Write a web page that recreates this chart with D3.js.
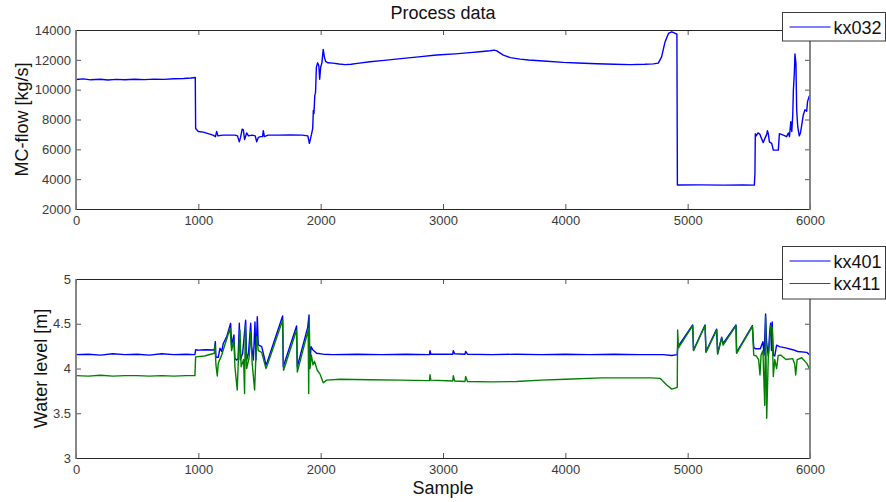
<!DOCTYPE html>
<html>
<head>
<meta charset="utf-8">
<script src="https://cdn.jsdelivr.net/npm/d3@7"></script>
<style>
	body { margin: 0; background: #fff; }
	svg { display: block; font-family: "Liberation Sans", Arial, sans-serif; }
	.tick text { fill: #3a3a3a; font-size: 13px; }
	.tick line { stroke: #555; }
	.domain { display: none; }
</style>
</head>
<body>
<svg id="chart" width="886" height="502"></svg>
<script>
var xTicks = [0, 1000, 2000, 3000, 4000, 5000, 6000],
		flowTicks = [2000, 4000, 6000, 8000, 10000, 12000, 14000],
		levelTicks = [3, 3.5, 4, 4.5, 5];

// [sample, kg/s]
var kx032 = [
	[0,10680],[60,10720],[120,10660],[200,10700],[260,10650],[330,10690],[400,10660],[480,10700],
	[560,10670],[640,10710],[720,10690],[800,10730],[880,10750],[940,10780],[975,10820],
	[978,7400],[1000,7200],[1040,7150],[1080,7050],[1120,6950],[1140,6850],[1150,7200],[1160,6900],
	[1200,6950],[1250,6950],[1300,6950],[1320,6900],[1335,6500],[1345,6800],[1358,7350],[1368,7300],
	[1378,6650],[1395,7100],[1410,6900],[1440,6950],[1465,6900],[1477,6500],[1490,6800],[1510,6850],
	[1525,6850],[1531,7250],[1540,6850],[1570,6950],[1650,6950],[1750,6970],[1850,6950],[1895,6900],
	[1908,6400],[1925,7000],[1935,7400],[1940,8600],[1945,8400],[1952,9600],[1958,9800],[1965,11500],
	[1975,11800],[1985,11600],[1992,10700],[2000,11500],[2010,11800],[2021,12700],[2030,12200],
	[2040,11900],[2060,11800],[2100,11780],[2150,11720],[2200,11680],[2250,11700],[2300,11760],
	[2403,11870],[2500,11950],[2675,12100],[2800,12200],[2948,12320],[3100,12400],[3220,12480],
	[3300,12540],[3384,12610],[3420,12650],[3440,12600],[3493,12320],[3550,12150],[3630,12050],
	[3700,11990],[3820,11920],[3984,11830],[4100,11790],[4256,11740],[4400,11700],[4529,11680],
	[4650,11700],[4720,11730],[4760,11780],[4787,12200],[4815,13200],[4843,13770],[4870,13880],
	[4890,13800],[4905,13740],[4912,13740],[4916,3610],[5100,3620],[5300,3600],[5450,3610],
	[5545,3600],[5550,4400],[5553,7050],[5560,6900],[5575,7100],[5591,7000],[5605,6700],[5618,6450],
	[5632,6750],[5646,7000],[5652,7250],[5659,7050],[5668,6500],[5687,6400],[5700,5950],[5741,5950],
	[5750,7050],[5782,6950],[5809,6850],[5823,7100],[5832,6850],[5843,7850],[5851,7200],[5859,8300],
	[5864,9950],[5872,11100],[5877,12400],[5885,11750],[5891,8650],[5900,7500],[5912,6900],[5922,7100],
	[5932,7600],[5945,8300],[5959,8650],[5973,8550],[5980,9200],[5991,9500],[6000,9650]
];

// [sample, m]
var kx401 = [
	[0,4.155],[100,4.16],[200,4.15],[300,4.165],[400,4.155],[500,4.16],[600,4.15],[700,4.165],
	[800,4.155],[900,4.16],[972,4.155],[978,4.21],[1000,4.205],[1060,4.21],[1130,4.207],[1139,4.30],
	[1144,4.125],[1163,4.125],[1177,4.226],[1191,4.19],[1204,4.28],[1232,4.356],[1264,4.505],
	[1272,4.263],[1291,4.374],[1299,4.114],[1313,4.095],[1325,4.11],[1335,4.505],[1343,4.095],
	[1362,4.17],[1387,4.54],[1395,4.095],[1410,4.17],[1428,4.505],[1436,4.25],[1450,4.095],
	[1463,4.52],[1471,4.095],[1482,4.579],[1490,4.263],[1518,4.245],[1531,4.17],[1553,4.039],
	[1564,4.076],[1689,4.587],[1694,4.02],[1803,4.475],[1809,4.02],[1894,4.46],[1905,4.598],
	[1910,4.0],[1921,4.244],[1935,4.21],[1967,4.17],[2021,4.16],[2100,4.155],[2300,4.16],
	[2500,4.155],[2700,4.16],[2890,4.155],[2894,4.2],[2900,4.16],[3080,4.16],[3084,4.2],[3095,4.165],
	[3180,4.16],[3185,4.19],[3200,4.16],[3400,4.155],[3600,4.16],[3800,4.155],[4000,4.16],
	[4200,4.155],[4400,4.16],[4600,4.155],[4800,4.155],[4870,4.145],[4915,4.155],[4918,4.24],
	[5041,4.486],[5048,4.207],[5142,4.486],[5150,4.19],[5237,4.44],[5245,4.17],[5278,4.35],
	[5290,4.28],[5395,4.486],[5400,4.18],[5529,4.48],[5540,4.24],[5553,4.22],[5594,4.22],
	[5615,4.3],[5625,4.15],[5637,4.609],[5645,4.3],[5659,4.14],[5670,4.4],[5678,4.505],[5685,4.2],
	[5691,4.52],[5700,4.15],[5712,4.14],[5727,4.26],[5750,4.244],[5800,4.23],[5859,4.21],
	[5900,4.19],[5973,4.18],[6000,4.15]
];

var kx411 = [
	[0,3.92],[100,3.915],[200,3.925],[300,3.915],[400,3.92],[500,3.92],[600,3.915],[700,3.92],
	[800,3.915],[900,3.92],[972,3.92],[978,4.13],[1050,4.14],[1131,4.17],[1136,4.263],[1144,4.04],
	[1155,3.916],[1163,4.06],[1191,4.15],[1259,4.45],[1272,4.2],[1291,4.32],[1299,4.02],[1318,3.76],
	[1328,4.12],[1340,4.43],[1350,4.02],[1370,4.1],[1378,3.72],[1384,4.48],[1395,4.0],[1415,4.12],
	[1428,4.41],[1440,4.06],[1460,3.76],[1477,4.356],[1490,4.2],[1518,4.18],[1553,4.0],[1564,4.04],
	[1689,4.54],[1697,3.98],[1803,4.43],[1809,3.96],[1898,4.43],[1902,3.72],[1907,4.56],[1912,4.0],
	[1924,4.15],[1937,4.04],[1950,4.08],[1972,3.98],[1994,3.94],[2021,3.84],[2049,3.87],[2158,3.88],
	[2400,3.875],[2650,3.87],[2890,3.865],[2894,3.93],[2900,3.87],[3080,3.86],[3084,3.92],[3095,3.86],
	[3180,3.855],[3185,3.91],[3200,3.855],[3400,3.85],[3600,3.855],[3800,3.87],[4000,3.88],
	[4300,3.895],[4700,3.895],[4774,3.89],[4829,3.816],[4870,3.77],[4915,3.79],[4918,4.43],
	[4925,4.23],[5041,4.48],[5048,4.2],[5142,4.48],[5150,4.18],[5237,4.43],[5245,4.16],[5278,4.34],
	[5290,4.26],[5395,4.48],[5400,4.17],[5529,4.47],[5540,4.15],[5560,4.14],[5580,4.1],[5591,3.927],
	[5600,4.15],[5615,4.2],[5630,3.59],[5637,4.58],[5646,3.443],[5659,4.12],[5670,4.3],[5678,4.48],
	[5691,4.45],[5700,3.91],[5712,4.1],[5727,4.0],[5740,4.145],[5760,4.15],[5804,4.1],[5859,4.11],
	[5875,4.05],[5883,3.927],[5895,4.1],[5932,4.12],[5973,4.06],[5995,4.0],[6000,4.0]
];

var svg = d3.select("#chart");
var left = 76, right = 810;

function makePanel(top, bottom, yDomain, yTicks, yFmt, yLabel, labelX, series, legend) {
	var x = d3.scaleLinear().domain([0, 6000]).range([left, right]),
			y = d3.scaleLinear().domain(yDomain).range([bottom, top]);

	var g = svg.append("g");

	g.append("g")
			.attr("transform", "translate(0," + bottom + ")")
			.call(d3.axisBottom(x).tickValues(xTicks).tickSize(-5).tickSizeOuter(0).tickPadding(6.5).tickFormat(d3.format("d")));
	g.append("g")
			.attr("transform", "translate(0," + top + ")")
			.call(d3.axisTop(x).tickValues(xTicks).tickSize(-5).tickSizeOuter(0).tickFormat(""));
	g.append("g")
			.attr("transform", "translate(" + left + ",0)")
			.call(d3.axisLeft(y).tickValues(yTicks).tickSize(-5).tickSizeOuter(0).tickPadding(5).tickFormat(yFmt));
	g.append("g")
			.attr("transform", "translate(" + right + ",0)")
			.call(d3.axisRight(y).tickValues(yTicks).tickSize(-5).tickSizeOuter(0).tickFormat(""));

	var line = d3.line()
			.x(function(d) { return x(d[0]); })
			.y(function(d) { return y(d[1]); });

	series.forEach(function(s) {
		g.append("path")
				.datum(s.data)
				.attr("fill", "none")
				.attr("stroke", s.color)
				.attr("stroke-width", 1.4)
				.attr("stroke-linejoin", "round")
				.attr("d", line);
	});

	// box
	g.append("line").attr("x1", left).attr("x2", right).attr("y1", top + 0.5).attr("y2", top + 0.5)
			.attr("stroke", "#262626");
	g.append("line").attr("x1", left).attr("x2", right).attr("y1", bottom + 0.5).attr("y2", bottom + 0.5)
			.attr("stroke", "#262626");
	g.append("line").attr("x1", left).attr("x2", left).attr("y1", top).attr("y2", bottom + 1)
			.attr("stroke", "#7a7a7a").attr("stroke-width", 1.8);
	g.append("line").attr("x1", right).attr("x2", right).attr("y1", top).attr("y2", bottom + 1)
			.attr("stroke", "#7a7a7a").attr("stroke-width", 1.8);

	g.append("text")
			.attr("transform", "translate(" + labelX + "," + ((top + bottom) / 2) + ") rotate(-90)")
			.attr("text-anchor", "middle")
			.attr("font-size", 18)
			.attr("fill", "#111")
			.text(yLabel);

	var lg = svg.append("g");
	lg.append("rect")
			.attr("x", legend.x).attr("y", legend.y)
			.attr("width", 103).attr("height", legend.h)
			.attr("fill", "#fff")
			.attr("stroke", "#3a3a3a");
	series.forEach(function(s, i) {
		var cy = legend.y + 14.5 + i * 22.5;
		lg.append("line")
				.attr("x1", legend.x + 7).attr("x2", legend.x + 48)
				.attr("y1", cy).attr("y2", cy)
				.attr("stroke", s.color);
		lg.append("text")
				.attr("x", legend.x + 51).attr("y", cy + 6.5)
				.attr("font-size", 18)
				.attr("fill", "#111")
				.text(s.name);
	});

	return g;
}

makePanel(30, 209, [2000, 14000], flowTicks, d3.format("d"), "MC-flow [kg/s]", 28,
	[{name: "kx032", data: kx032, color: "#0000ff"}],
	{x: 782.5, y: 12.5, h: 28.5});

makePanel(279, 458, [3, 5], levelTicks, function(d) { return String(d); }, "Water level [m]", 46.5,
	[{name: "kx401", data: kx401, color: "#0000ff"}, {name: "kx411", data: kx411, color: "#008000"}],
	{x: 782.5, y: 246.5, h: 52.5});

svg.append("text")
		.attr("x", 443).attr("y", 19)
		.attr("text-anchor", "middle")
		.attr("font-size", 18)
		.attr("fill", "#111")
		.text("Process data");

svg.append("text")
		.attr("x", 443).attr("y", 494)
		.attr("text-anchor", "middle")
		.attr("font-size", 18)
		.attr("fill", "#111")
		.text("Sample");
</script>
</body>
</html>
